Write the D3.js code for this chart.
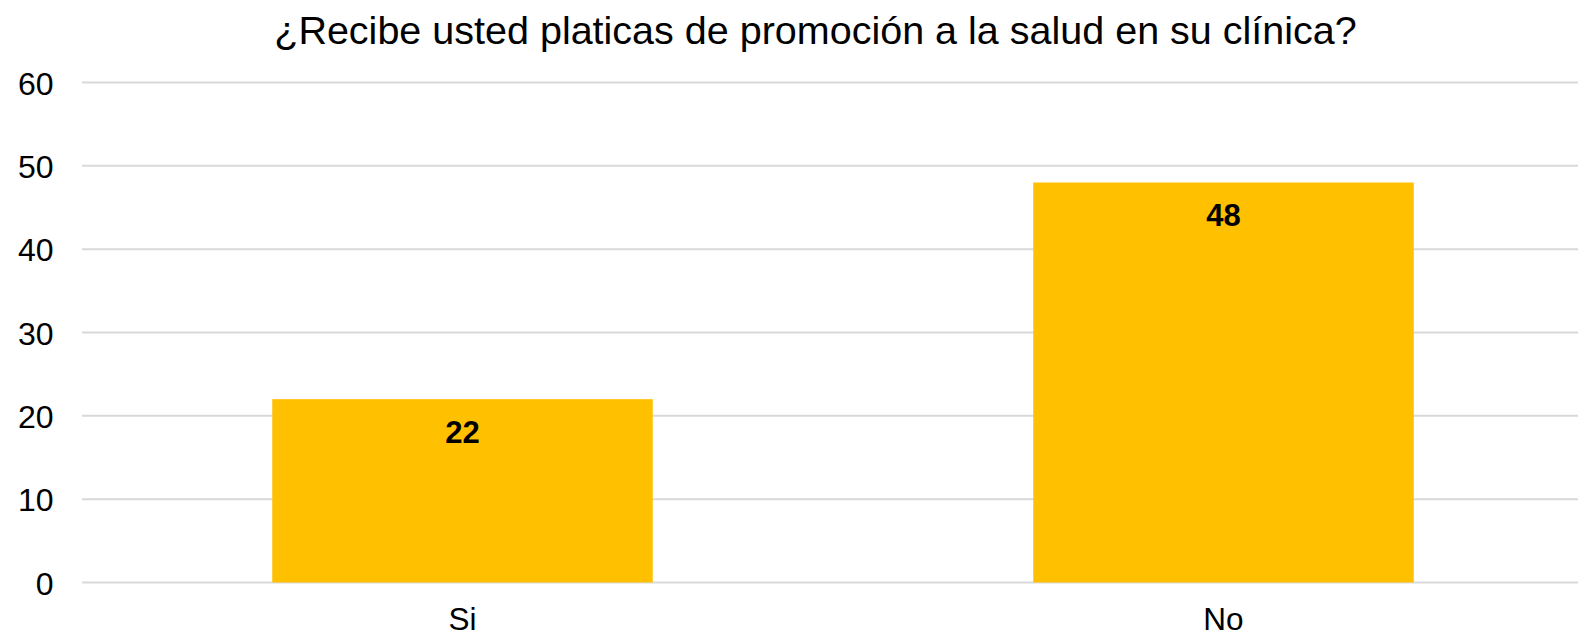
<!DOCTYPE html>
<html>
<head>
<meta charset="utf-8">
<script src="https://cdn.jsdelivr.net/npm/d3@7"></script>
<style>
  body { margin: 0; background: #fff; }
  svg { display: block; font-family: "Liberation Sans", Arial, sans-serif; }
</style>
</head>
<body>
<svg id="chart" width="1578" height="636"></svg>
<script>
const title = "¿Recibe usted platicas de promoción a la salud en su clínica?";
const categories = ["Si", "No"];
const values = [22, 48];
const yTicks = [0, 10, 20, 30, 40, 50, 60];

const svg = d3.select("#chart");
const W = 1578;

// plot area runs past the right edge of the picture (it is cropped there)
const x = d3.scaleBand().domain(categories).range([82, 1604])
    .paddingInner(0.5).paddingOuter(0.25);
const y = d3.scaleLinear().domain([0, 60]).range([582.5, 82.5]);

// gridlines
svg.append("g")
    .selectAll("line")
    .data(yTicks)
    .join("line")
    .attr("x1", 82)
    .attr("x2", W)
    .attr("y1", d => y(d))
    .attr("y2", d => y(d))
    .attr("stroke", "#d9d9d9")
    .attr("stroke-width", 2);

// y axis labels
const yAxis = svg.append("g")
    .attr("transform", "translate(53.5,0)")
    .call(d3.axisLeft(y).tickValues(yTicks).tickSize(0).tickPadding(0));
yAxis.select(".domain").remove();
yAxis.selectAll("text")
    .attr("dy", "0.36em")
    .style("font-size", "32px")
    .style("font-family", "Liberation Sans, Arial, sans-serif")
    .attr("fill", "#000");

// bars
svg.append("g")
    .selectAll("rect")
    .data(values)
    .join("rect")
    .attr("x", (d, i) => x(categories[i]))
    .attr("width", x.bandwidth())
    .attr("y", d => y(d))
    .attr("height", d => y(0) - y(d))
    .attr("fill", "#ffc000");

// data labels
svg.append("g")
    .selectAll("text")
    .data(values)
    .join("text")
    .attr("x", (d, i) => x(categories[i]) + x.bandwidth() / 2)
    .attr("y", d => y(d) + 43.5)
    .attr("text-anchor", "middle")
    .style("font-size", "31px")
    .style("font-weight", "bold")
    .attr("fill", "#000")
    .text(d => d);

// x axis labels
const xAxis = svg.append("g")
    .attr("transform", "translate(0,582.5)")
    .call(d3.axisBottom(x).tickSize(0).tickPadding(0));
xAxis.select(".domain").remove();
xAxis.selectAll("text")
    .attr("dy", null)
    .attr("y", 47.5)
    .style("font-size", "31.5px")
    .style("font-family", "Liberation Sans, Arial, sans-serif")
    .attr("fill", "#000");

// title
svg.append("text")
    .attr("x", 815.5)
    .attr("y", 43.5)
    .attr("text-anchor", "middle")
    .style("font-size", "39.5px")
    .attr("fill", "#000")
    .text(title);
</script>
</body>
</html>
